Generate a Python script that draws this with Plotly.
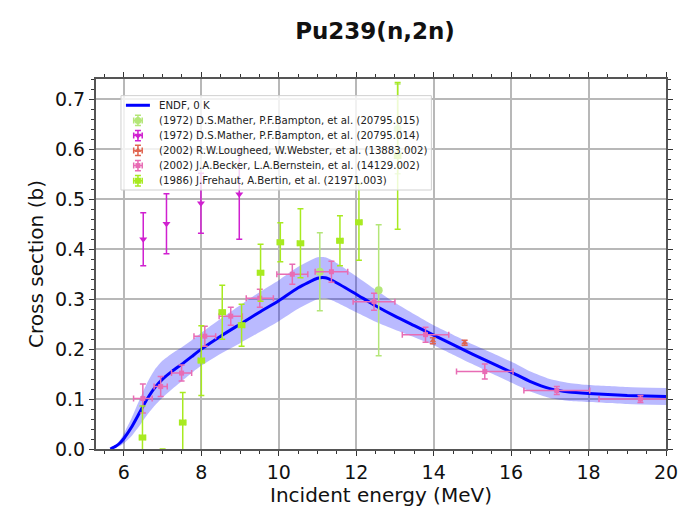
import plotly.graph_objects as go

# ENDF evaluation (0 K) with uncertainty band
endf_e = [5.65, 5.8, 5.9, 6.0, 6.2, 6.4, 6.6, 6.8, 7.0, 7.25, 7.5, 7.75, 8.0, 8.5, 9.0, 9.5,
          10.0, 10.5, 11.0, 11.2, 11.4, 12.0, 12.5, 13.0, 13.5, 14.0, 14.5, 15.0, 15.5, 16.0,
          16.5, 17.0, 17.5, 18.0, 18.5, 19.0, 20.0]
endf_xs = [0.0, 0.006, 0.012, 0.021, 0.044, 0.072, 0.1, 0.123, 0.14, 0.156, 0.17, 0.185, 0.2,
           0.226, 0.25, 0.274, 0.297, 0.323, 0.342, 0.343, 0.337, 0.31, 0.287, 0.266, 0.247,
           0.228, 0.209, 0.19, 0.172, 0.154, 0.135, 0.121, 0.114, 0.111, 0.109, 0.107, 0.105]
endf_unc = [0.0, 0.003, 0.006, 0.01, 0.018, 0.026, 0.032, 0.036, 0.037, 0.036, 0.034, 0.033,
            0.033, 0.035, 0.038, 0.04, 0.041, 0.042, 0.042, 0.041, 0.04, 0.036, 0.032, 0.027,
            0.023, 0.02, 0.02, 0.02, 0.021, 0.021, 0.02, 0.019, 0.018, 0.017, 0.017, 0.017, 0.017]

# (1972) D.S.Mather, P.F.Bampton, et al. (20795.015)
m15_e = [11.06, 12.58, 13.07]
m15_xs = [0.355, 0.318, 0.641]
m15_dxs = [0.078, 0.131, 0.09]

# (1972) D.S.Mather, P.F.Bampton, et al. (20795.014)
m14_e = [6.5, 7.1, 7.99, 8.98]
m14_xs = [0.420, 0.451, 0.492, 0.510]
m14_dxs = [0.053, 0.06, 0.06, 0.09]

# (2002) R.W.Lougheed, W.Webster, et al. (13883.002)
lo_e = [13.98, 14.8]
lo_xs = [0.217, 0.213]
lo_dxs = [0.006, 0.005]

# (2002) J.A.Becker, L.A.Bernstein, et al. (14129.002)
be_e = [6.49, 6.95, 7.49, 8.09, 8.76, 9.51, 10.35, 11.36, 12.46, 13.79, 15.32, 17.18, 19.34]
be_xs = [0.101, 0.125, 0.152, 0.226, 0.266, 0.302, 0.35, 0.355, 0.295, 0.229, 0.155, 0.117, 0.1]
be_dxs = [0.029, 0.02, 0.016, 0.02, 0.018, 0.018, 0.02, 0.021, 0.017, 0.015, 0.015, 0.008, 0.007]
be_de = [0.24, 0.17, 0.26, 0.28, 0.3, 0.35, 0.4, 0.42, 0.54, 0.6, 0.73, 0.85, 1.07]

# (1986) J.Frehaut, A.Bertin, et al. (21971.003)
fr_e = [6.48, 7.0, 7.52, 8.0, 8.54, 9.04, 9.53, 10.04, 10.56, 11.58, 12.07, 13.07]
fr_xs = [0.023, -0.012, 0.053, 0.177, 0.274, 0.248, 0.353, 0.414, 0.412, 0.417, 0.454, 0.587]
fr_dxs = [0.063, 0.012, 0.06, 0.07, 0.054, 0.042, 0.057, 0.039, 0.069, 0.05, 0.076, 0.147]
fr_de = [0.08] * len(fr_e)

# legend entries
legend_labels = ["ENDF, 0 K",
                 "(1972) D.S.Mather, P.F.Bampton, et al. (20795.015)",
                 "(1972) D.S.Mather, P.F.Bampton, et al. (20795.014)",
                 "(2002) R.W.Lougheed, W.Webster, et al. (13883.002)",
                 "(2002) J.A.Becker, L.A.Bernstein, et al. (14129.002)",
                 "(1986) J.Frehaut, A.Bertin, et al. (21971.003)"]
legend_colors = ["#0000ff", "#b4e678", "#d020d0", "#e0644f", "#e86cb4", "#a8ea20"]
legend_symbols = [None, "circle", "triangle-down", "triangle-up", "square", "square"]
legend_sizes = [0, 7, 7, 6, 5, 6]

FONT = "DejaVu Sans"

fig = go.Figure()

upper = [v + u for v, u in zip(endf_xs, endf_unc)]
lower = [v - u for v, u in zip(endf_xs, endf_unc)]
fig.add_trace(go.Scatter(x=endf_e, y=upper, mode="lines",
                         line=dict(width=0, shape="spline", smoothing=0.6),
                         showlegend=False, hoverinfo="skip"))
fig.add_trace(go.Scatter(x=endf_e, y=lower, mode="lines",
                         line=dict(width=0, shape="spline", smoothing=0.6),
                         fill="tonexty", fillcolor="rgba(0,0,255,0.27)",
                         showlegend=False, hoverinfo="skip"))


def exp_trace(name, e, xs, dxs, color, symbol, size, de=None):
    err_x = dict(type="data", array=de, color=color, thickness=1.5, width=3) if de else None
    return go.Scatter(
        x=e, y=xs, mode="markers", name=name, showlegend=False,
        marker=dict(color=color, symbol=symbol, size=size, line=dict(width=0)),
        error_y=dict(type="data", array=dxs, color=color, thickness=1.5, width=3),
        error_x=err_x,
    )


fig.add_trace(go.Scatter(x=endf_e, y=endf_xs, mode="lines", name=legend_labels[0], showlegend=False,
                         line=dict(color="#0000ff", width=3, shape="spline", smoothing=0.5)))
fig.add_trace(exp_trace(legend_labels[1], m15_e, m15_xs, m15_dxs, legend_colors[1], "circle", 8))
fig.add_trace(exp_trace(legend_labels[2], m14_e, m14_xs, m14_dxs, legend_colors[2], "triangle-down", 7))
fig.add_trace(exp_trace(legend_labels[3], lo_e, lo_xs, lo_dxs, legend_colors[3], "triangle-up", 6))
fig.add_trace(exp_trace(legend_labels[4], be_e, be_xs, be_dxs, legend_colors[4], "square", 5, be_de))
fig.add_trace(exp_trace(legend_labels[5], fr_e, fr_xs, fr_dxs, legend_colors[5], "square", 6, fr_de))

# ---- legend drawn on an overlay axis (0..1 units across the plot area) ----
box_x = [0.0438, 0.5884, 0.5884, 0.0438, 0.0438]
box_y = [0.700, 0.700, 0.955, 0.955, 0.700]
fig.add_trace(go.Scatter(x=box_x, y=box_y, xaxis="x2", yaxis="y2", mode="lines", fill="toself",
                         fillcolor="rgba(255,255,255,0.8)", line=dict(color="#d0d0d0", width=1),
                         showlegend=False, hoverinfo="skip"))
row_y = [0.929, 0.888, 0.847, 0.807, 0.766, 0.725]
fig.add_trace(go.Scatter(x=[0.0525, 0.0946], y=[row_y[0], row_y[0]], xaxis="x2", yaxis="y2",
                         mode="lines", line=dict(color=legend_colors[0], width=3),
                         showlegend=False, hoverinfo="skip"))
for i in range(1, len(legend_labels)):
    fig.add_trace(go.Scatter(
        x=[0.0736], y=[row_y[i]], xaxis="x2", yaxis="y2", mode="markers",
        marker=dict(color=legend_colors[i], symbol=legend_symbols[i], size=legend_sizes[i]),
        error_x=dict(type="constant", value=0.0075, color=legend_colors[i], thickness=1.5, width=3),
        error_y=dict(type="constant", value=0.014, color=legend_colors[i], thickness=1.5, width=3),
        showlegend=False, hoverinfo="skip"))
for i, lab in enumerate(legend_labels):
    fig.add_annotation(x=0.1068, y=row_y[i], xref="paper", yref="paper", text=lab,
                       showarrow=False, xanchor="left", yanchor="middle",
                       font=dict(family=FONT, size=10.2, color="#222222"))

axis_common = dict(
    showgrid=True, gridcolor="#b8b8b8", gridwidth=1.5,
    showline=True, linecolor="#555555", linewidth=2, mirror="ticks",
    ticks="outside", ticklen=5, tickwidth=1, tickcolor="#333333",
    zeroline=False,
    tickfont=dict(family=FONT, size=19, color="#111111"),
)

fig.update_layout(
    xaxis=dict(range=[5.28, 20], dtick=2, tick0=0,
               minor=dict(dtick=0.5, ticks="outside", ticklen=3, tickcolor="#333333", showgrid=False),
               title=dict(text="Incident energy (MeV)",
                          font=dict(family=FONT, size=20, color="#111111"), standoff=4),
               **axis_common),
    yaxis=dict(range=[0, 0.741], dtick=0.1, tick0=0, tickformat=".1f",
               minor=dict(dtick=0.02, ticks="outside", ticklen=3, tickcolor="#333333", showgrid=False),
               title=dict(text="Cross section (b)",
                          font=dict(family=FONT, size=20, color="#111111"), standoff=6),
               **axis_common),
    xaxis2=dict(overlaying="x", range=[0, 1], visible=False, showgrid=False,
                zeroline=False, fixedrange=True),
    yaxis2=dict(overlaying="y", range=[0, 1], visible=False, showgrid=False,
                zeroline=False, fixedrange=True),
    width=690, height=513,
    margin=dict(l=96, r=23, t=79, b=54),
    paper_bgcolor="white", plot_bgcolor="white",
    title=dict(text="<b>Pu239(n,2n)</b>", x=0.5435, xanchor="center", y=0.94, yanchor="middle",
               font=dict(family=FONT, size=23, color="#111111")),
    showlegend=False,
)

fig.write_html("out.html")
